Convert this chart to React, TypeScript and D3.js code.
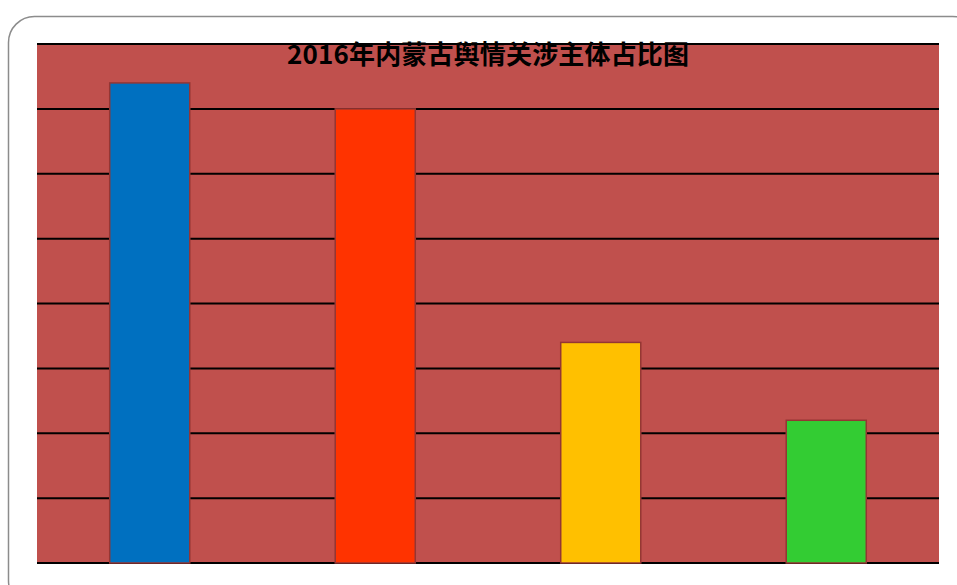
import React from "react";
import * as d3 from "d3";

const categories = ["类别一", "类别二", "类别三", "类别四"];
const values = [7.4, 7.0, 3.4, 2.2];
const barColors = ["#0070C0", "#FF3300", "#FFC000", "#33CC33"];
const yTicks = [0, 1, 2, 3, 4, 5, 6, 7, 8];
const title = "2016年内蒙古舆情关涉主体占比图";

export default function App() {
  const W = 957, H = 585;
  const left = 37, right = 939, top = 44, bottom = 563;
  const x = d3.scaleBand<string>().domain(categories).range([left, right]).paddingInner(0.645).paddingOuter(0.3225);
  const y = d3.scaleLinear().domain([0, 8]).range([bottom, top]);
  return (
    <svg width={W} height={H} style={{ position: "absolute", left: 0, top: 0 }}>
      <rect x={8.5} y={16.5} width={970} height={590} rx={26} ry={26} fill="#fff" stroke="#8c8c8c" strokeWidth={1.5} />
      <rect x={left} y={top} width={right - left} height={bottom - top} fill="#C0504D" />
      {yTicks.map((t) => (
        <line key={t} x1={left} x2={right} y1={y(t)} y2={y(t)} stroke="#000" strokeWidth={2} />
      ))}
      {categories.map((c, i) => (
        <rect
          key={c}
          x={x(c)!}
          y={y(values[i])}
          width={x.bandwidth()}
          height={y(0) - y(values[i])}
          fill={barColors[i]}
          stroke="#943634"
          strokeWidth={1.5}
        />
      ))}
      <text
        x={(left + right) / 2}
        y={64}
        textAnchor="middle"
        fontFamily="'Noto Sans CJK SC', sans-serif"
        fontWeight="bold"
        fontSize={26}
        textLength={402}
        lengthAdjust="spacing"
        fill="#000"
      >
        {title}
      </text>
    </svg>
  );
}
